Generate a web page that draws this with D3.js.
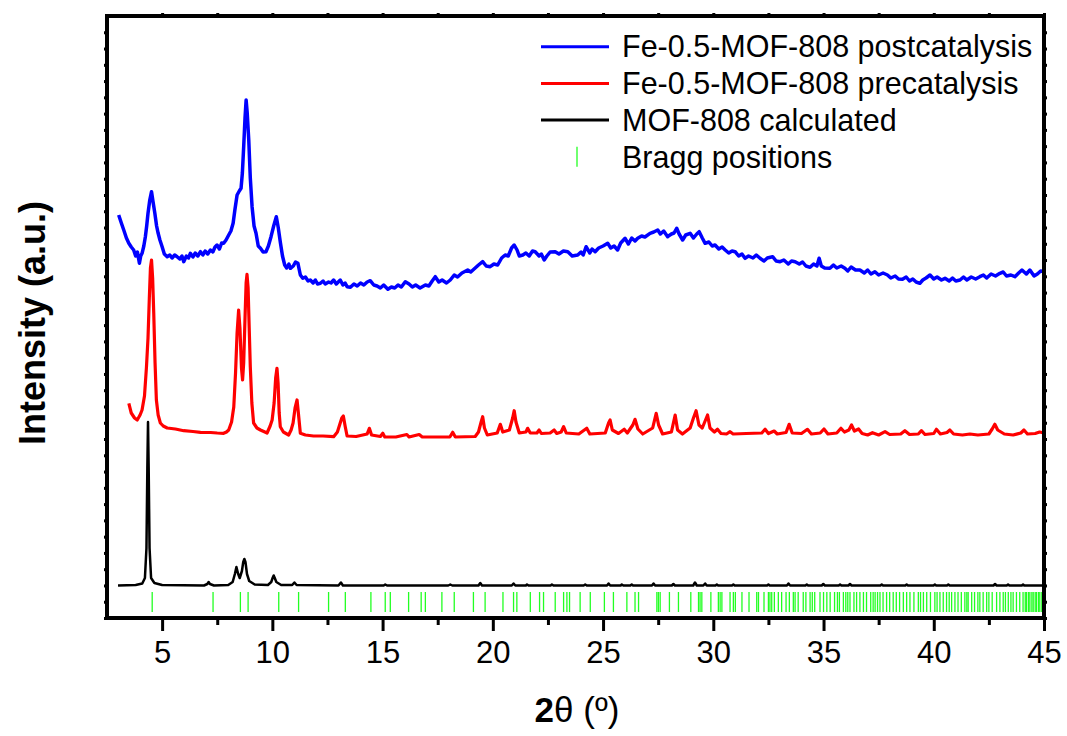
<!DOCTYPE html>
<html>
<head>
<meta charset="utf-8">
<script src="https://cdn.jsdelivr.net/npm/d3@7"></script>
<style>
  body { margin: 0; background: #fff; }
  svg { display: block; }
  text { font-family: Arial, "Liberation Sans", sans-serif; fill: #000; }
</style>
</head>
<body>
<svg id="chart" width="1067" height="736"></svg>
<script>
// ---- Data: 2θ (degrees) vs. intensity (a.u., patterns stacked with offsets) ----
const xMajorTicks = [5, 10, 15, 20, 25, 30, 35, 40, 45];
const xMinorTicks = [7.5, 12.5, 17.5, 22.5, 27.5, 32.5, 37.5, 42.5];

const seriesNames = ["Fe-0.5-MOF-808 postcatalysis", "Fe-0.5-MOF-808 precatalysis", "MOF-808 calculated", "Bragg positions"];
const seriesColors = ["#0000ff", "#ff0000", "#000000", "#22ff22"];

// Fe-0.5-MOF-808 after catalysis
const postcatalysis = [
  [3.03,403],[3.15,395],[3.26,388],[3.38,380],[3.49,374.7],[3.6,371],[3.71,368],[3.8,362],[3.88,366],[3.97,354.7],
  [4.03,362],[4.09,364.7],[4.17,372],[4.24,381.3],[4.3,392],[4.36,404.7],[4.44,418],[4.52,426.3],[4.59,416],[4.67,404.7],
  [4.75,392],[4.82,384.7],[4.9,378],[5.0,371.3],[5.1,364],[5.23,361.3],[5.35,363],[5.45,360],[5.57,363],[5.68,361.3],
  [5.8,359],[5.9,362],[5.98,356.3],[6.1,362],[6.2,360],[6.28,364.7],[6.4,361],[6.5,365],[6.62,362],[6.74,366.3],
  [6.85,363],[6.95,367],[7.07,364],[7.19,368],[7.3,366],[7.4,371],[7.49,373],[7.6,369],[7.7,375],[7.79,374.7],
  [7.9,378],[8.02,383],[8.12,387],[8.22,394.7],[8.3,408],[8.4,423],[8.5,427],[8.58,429.7],[8.64,445],[8.7,471.3],
  [8.76,500],[8.81,518],[8.86,505],[8.93,478],[9.0,440],[9.08,411.3],[9.17,392],[9.26,384.7],[9.36,372],[9.46,369.7],
  [9.58,366],[9.71,366.3],[9.82,372],[9.94,381.3],[10.06,392],[10.18,401.3],[10.27,390],[10.36,376],[10.46,362],[10.56,353],
  [10.65,350],[10.75,354],[10.82,349.7],[10.95,352],[11.05,356],[11.16,354.7],[11.27,343],[11.38,339.7],[11.5,341],[11.62,337],
  [11.72,338],[11.85,335],[11.95,338],[12.05,334],[12.18,334.7],[12.3,337],[12.4,334],[12.55,336],[12.66,335],[12.78,338],
  [12.9,334],[13.08,338],[13.2,333],[13.3,335],[13.39,331.3],[13.54,330.7],[13.7,334],[13.85,332],[14.0,335],[14.15,333],
  [14.3,336],[14.44,337.3],[14.6,333],[14.75,332],[14.9,330],[15.05,333],[15.24,328.7],[15.4,331],[15.55,330],[15.7,333],
  [15.85,331],[16.03,336.3],[16.2,334],[16.35,331],[16.5,333],[16.7,330],[16.94,333],[17.1,332],[17.25,337],[17.39,341.3],
  [17.55,336],[17.7,338],[17.9,335],[18.07,338],[18.25,343],[18.4,341],[18.6,345],[18.86,348],[19.0,346],[19.2,350],
  [19.35,353],[19.54,356.3],[19.7,352],[19.88,351.3],[20.05,354],[20.22,353],[20.4,360],[20.56,363],[20.7,362],[20.85,370],
  [20.97,373],[21.1,368],[21.2,362],[21.36,363],[21.5,365],[21.65,362],[21.8,367],[21.92,366.3],[22.1,362],[22.2,364],
  [22.33,358],[22.45,362],[22.6,366],[22.83,366.3],[23.0,364],[23.2,367],[23.4,366.3],[23.6,362],[23.85,363],[24.0,366],
  [24.1,363],[24.23,371.3],[24.4,365],[24.5,369],[24.64,366.3],[24.8,370],[25.0,372],[25.21,374.7],[25.35,370],[25.5,372],
  [25.66,368],[25.8,375],[26.0,379.7],[26.15,374],[26.3,380],[26.45,377],[26.57,379.7],[26.75,382],[26.9,381],[27.13,384.7],
  [27.3,386],[27.48,388],[27.6,384],[27.75,387],[27.93,381.3],[28.1,384],[28.22,385],[28.34,389.7],[28.45,384],[28.61,378],
  [28.75,383],[28.95,384.7],[29.1,380],[29.25,384],[29.36,386.3],[29.5,380],[29.63,374.7],[29.8,376],[29.95,372],[30.08,373],
  [30.25,369],[30.4,371],[30.54,368],[30.7,365],[30.85,367],[30.99,366.3],[31.15,362],[31.3,364],[31.44,359.7],[31.6,362],
  [31.8,360],[31.95,363],[32.12,359.7],[32.3,357],[32.45,360],[32.69,361.3],[32.85,357],[33.03,356.3],[33.2,358],[33.4,354],
  [33.55,357],[33.71,356.3],[33.9,354],[34.05,356],[34.2,352],[34.39,350.7],[34.55,354],[34.7,352],[34.8,359.7],[34.9,352],
  [35.05,350],[35.29,349.7],[35.45,353],[35.6,350],[35.8,352],[35.97,349.7],[36.1,347],[36.25,351],[36.45,348],[36.65,348],
  [36.85,345],[37.0,348],[37.15,344],[37.33,346.3],[37.5,343],[37.7,345],[37.9,343],[38.05,340],[38.25,342],[38.4,339],
  [38.58,338.7],[38.75,341],[38.9,337],[39.05,339],[39.2,336],[39.37,334.7],[39.5,338],[39.65,340],[39.83,343],[40.0,339],
  [40.15,341],[40.35,338],[40.51,339.7],[40.7,337],[40.85,340],[41.0,337],[41.19,338],[41.35,341],[41.5,338],[41.7,341],
  [41.9,339],[42.09,341.3],[42.25,343],[42.4,340],[42.6,344],[42.8,342],[43.0,344.7],[43.15,346],[43.3,342],[43.5,343],
  [43.68,341.3],[43.85,345],[44.0,348],[44.2,344],[44.36,348],[44.55,342],[44.7,344],[44.85,347],[45.0,346.3]
];

// Fe-0.5-MOF-808 before catalysis
const precatalysis = [
  [3.49,214.7],[3.6,205],[3.75,200],[3.87,198],[4.0,203],[4.09,208],[4.2,222],[4.29,251],[4.36,280],[4.42,320],
  [4.47,350],[4.52,358],[4.57,340],[4.62,305],[4.68,255],[4.74,218],[4.82,203],[4.92,195],[5.05,192],[5.23,190],
  [5.6,189],[5.98,187.3],[6.4,186.5],[6.74,185.7],[7.2,185.5],[7.5,185],[7.79,184.7],[7.92,186],[8.02,188],[8.15,196],
  [8.25,211],[8.33,245],[8.4,285],[8.47,308],[8.53,290],[8.6,250],[8.65,238],[8.7,255],[8.76,300],[8.81,335],
  [8.85,343.7],[8.9,330],[8.95,290],[9.0,251],[9.07,215],[9.15,195],[9.3,190],[9.46,188],[9.76,185],[9.9,192],
  [9.99,198],[10.08,215],[10.15,240],[10.21,249.7],[10.26,235],[10.31,205],[10.36,191.3],[10.5,186],[10.74,183],[10.85,188],
  [10.94,195],[11.03,210],[11.12,218],[11.18,205],[11.27,184.7],[11.5,183],[11.87,182],[12.3,182],[12.78,181.3],[12.95,186],
  [13.05,193],[13.15,200],[13.22,202],[13.3,192],[13.39,182],[13.8,181.5],[14.3,184],[14.4,189.7],[14.5,183],[14.9,181.5],
  [15.01,184.7],[15.1,181],[15.6,181],[16.1,183.5],[16.2,181],[16.66,183.5],[16.8,181],[17.5,181],[18.05,181],[18.18,185.7],
  [18.3,181],[19.2,181.5],[19.35,186],[19.47,196],[19.54,201.3],[19.62,190],[19.75,183],[20.2,185],[20.34,193.7],[20.45,186],
  [20.75,188],[20.9,200],[20.97,207.3],[21.05,196],[21.2,185],[21.5,186],[21.58,189.7],[21.7,185],[22.0,185],[22.1,188],
  [22.2,184.5],[22.6,185],[22.78,188],[22.9,184.5],[23.1,186],[23.21,191.3],[23.33,185],[23.9,184],[24.26,189.7],[24.4,184],
  [25.1,185],[25.25,195],[25.32,198],[25.42,188],[25.7,184.5],[25.96,188.7],[26.1,185],[26.35,193],[26.45,198.7],[26.58,189],
  [26.8,184],[27.25,190],[27.41,204.7],[27.52,193],[27.7,184],[28.1,186],[28.27,203],[28.38,188],[28.6,184],[28.95,190],
  [29.1,200],[29.22,207.3],[29.35,193],[29.5,190],[29.74,203],[29.85,190],[30.05,186],[30.19,188.7],[30.35,184.5],[30.6,184],
  [30.76,186.3],[30.9,184],[31.5,184.5],[32.2,185],[32.35,188.7],[32.5,184.5],[32.76,187],[32.9,184],[33.3,185.5],[33.44,193.7],
  [33.58,185],[34.0,184.5],[34.27,188.7],[34.45,184],[34.85,185],[35.02,189],[35.2,184],[35.6,185],[35.79,189.7],[35.95,186],
  [36.15,188],[36.27,193],[36.4,187],[36.59,189],[36.75,184.5],[37.0,183],[37.22,185.3],[37.5,183],[37.79,186.3],[38.0,183.5],
  [38.5,184],[38.69,187.3],[38.9,183.5],[39.3,184],[39.44,187.3],[39.6,183.5],[40.0,184.5],[40.12,188.7],[40.3,184],[40.6,185.5],
  [40.73,188],[40.9,184],[41.3,183],[41.64,184],[42.0,183],[42.5,184],[42.65,189],[42.77,193.7],[42.9,188],[43.2,184],
  [43.6,183],[43.95,185],[44.09,188],[44.25,184],[44.6,184.5],[44.8,186],[45.0,185]
];

// MOF-808 simulated pattern
const calculated = [
  [3.0,32.5],[3.8,33],[4.1,34.5],[4.22,40],[4.29,70],[4.33,150],[4.36,196],[4.39,150],[4.43,70],[4.5,40],
  [4.65,35],[5.0,33],[6.9,32.5],[7.05,34],[7.11,36],[7.17,34],[7.35,32.5],[8.0,33],[8.2,36],[8.3,44],
  [8.37,51],[8.45,44],[8.52,40],[8.62,47],[8.68,56],[8.73,59],[8.78,56],[8.85,44],[8.95,37],[9.2,33.5],
  [9.8,33],[9.95,36],[10.02,40.5],[10.06,42.5],[10.1,40.5],[10.18,36],[10.4,33],[10.9,33],[11.0,35.5],[11.1,33],
  [13.0,32.5],[13.11,35.5],[13.2,32.5],[15.05,32.5],[15.12,33.5],[15.2,32.5],[17.98,32.5],[18.07,33.5],[18.16,32.5],[19.35,32.5],
  [19.43,35],[19.51,32.5],[20.86,32.5],[20.94,34.5],[21.02,32.5],[21.5,32.5],[21.55,33.5],[21.62,32.5],[22.62,32.5],[22.68,33.5],
  [22.75,32.5],[24.12,32.5],[24.19,33.5],[24.26,32.5],[25.18,32.5],[25.25,34.5],[25.32,32.5],[25.8,32.5],[25.85,33.5],[25.92,32.5],
  [26.24,32.5],[26.3,33.5],[26.36,32.5],[27.22,32.5],[27.29,34.5],[27.36,32.5],[28.12,32.5],[28.19,34],[28.26,32.5],[29.09,32.5],
  [29.17,35.5],[29.25,32.5],[29.55,32.5],[29.63,34.5],[29.7,32.5],[30.1,32.5],[30.16,33.5],[30.22,32.5],[30.85,32.5],[30.91,33.5],
  [30.97,32.5],[32.44,32.5],[32.5,33.5],[32.56,32.5],[33.34,32.5],[33.41,34.5],[33.48,32.5],[34.18,32.5],[34.24,33.5],[34.3,32.5],
  [34.92,32.5],[34.99,34],[35.06,32.5],[35.69,32.5],[35.75,33.5],[35.81,32.5],[36.13,32.5],[36.2,34],[36.27,32.5],[37.58,32.5],
  [37.64,33.5],[37.7,32.5],[38.71,32.5],[38.77,33.5],[38.83,32.5],[39.99,32.5],[40.05,33.5],[40.11,32.5],[40.6,32.5],[40.66,33.5],
  [40.72,32.5],[42.71,32.5],[42.78,34],[42.85,32.5],[43.31,32.5],[43.37,33.5],[43.43,32.5],[43.99,32.5],[44.05,33.5],[44.11,32.5],
  [45.0,32.5]
];

// Bragg reflection positions (2θ, degrees)
const braggPositions = [
  4.55, 7.31, 8.55, 8.90, 10.29, 11.19, 12.55, 13.31, 14.47, 15.12, 15.35, 16.18, 16.75, 16.94, 17.69, 18.25,
  19.12, 19.65, 20.46, 20.94, 21.09, 21.70, 22.12, 22.30, 22.83, 23.21, 23.36, 23.48, 23.96, 24.42, 25.06, 25.47,
  26.08, 26.45, 26.61, 27.44, 27.51, 27.59, 28.01, 28.42, 28.98, 29.33, 29.40, 29.48, 29.89, 30.23, 30.31, 30.39,
  30.76, 30.91, 31.00, 31.30, 31.62, 31.97, 32.05, 32.30, 32.50, 32.57, 32.65, 32.77, 32.95, 33.10, 33.30, 33.45,
  33.63, 33.71, 33.85, 34.08, 34.20, 34.39, 34.49, 34.60, 34.84, 35.00, 35.15, 35.30, 35.50, 35.63, 35.72, 35.90,
  36.01, 36.10, 36.20, 36.38, 36.50, 36.65, 36.81, 36.95, 37.14, 37.25, 37.34, 37.45, 37.56, 37.70, 37.86, 38.00,
  38.16, 38.30, 38.45, 38.62, 38.77, 38.92, 39.10, 39.30, 39.40, 39.53, 39.68, 39.85, 40.05, 40.15, 40.28, 40.43,
  40.58, 40.70, 40.81, 40.96, 41.10, 41.25, 41.41, 41.50, 41.56, 41.72, 41.85, 42.00, 42.09, 42.24, 42.40, 42.50,
  42.65, 42.85, 43.00, 43.15, 43.25, 43.38, 43.50, 43.60, 43.75, 43.90, 44.05, 44.15, 44.21, 44.30, 44.36, 44.45,
  44.51, 44.60, 44.66, 44.75, 44.81, 44.90, 44.96
];
const braggLevel = 16;      // centre of the reflection markers, a.u.
const braggHalfLength = 10; // half height of each marker, a.u.

// ---- Layout ----
const svg = d3.select("#chart");
const plot = { left: 107, right: 1044, top: 16, bottom: 618 };

const x = d3.scaleLinear().domain([2.5, 45]).range([plot.left, plot.right]);
const y = d3.scaleLinear().domain([0, 602]).range([plot.bottom, plot.top]);
const yMinorTicks = d3.range(0, 37).map(i => i * 602 / 37);

const line = d3.line().x(d => x(d[0])).y(d => y(d[1])).curve(d3.curveLinear);

// traces
const traces = [
  { data: postcatalysis, color: seriesColors[0], width: 3.5 },
  { data: precatalysis, color: seriesColors[1], width: 3.2 },
  { data: calculated, color: seriesColors[2], width: 2.5 }
];
svg.append("g").selectAll("path").data(traces).join("path")
  .attr("d", d => line(d.data))
  .attr("fill", "none")
  .attr("stroke", d => d.color)
  .attr("stroke-width", d => d.width)
  .attr("stroke-linejoin", "round");

// Bragg markers
svg.append("g").selectAll("line").data(braggPositions).join("line")
  .attr("x1", d => x(d)).attr("x2", d => x(d))
  .attr("y1", y(braggLevel - braggHalfLength)).attr("y2", y(braggLevel + braggHalfLength))
  .attr("stroke", seriesColors[3]).attr("stroke-width", 1.3);

// ---- Axes ----
const axisStyle = g => {
  g.select(".domain").remove();
  g.selectAll("line").attr("stroke", "#000").attr("stroke-width", 3);
};

svg.append("g").attr("transform", `translate(0,${plot.bottom})`)
  .call(d3.axisBottom(x).tickValues(xMajorTicks).tickSize(13).tickPadding(10).tickFormat(d3.format("d")))
  .call(axisStyle)
  .call(g => g.selectAll("text").attr("font-size", 31).attr("font-family", "Arial, 'Liberation Sans', sans-serif"));

svg.append("g").attr("transform", `translate(0,${plot.bottom})`)
  .call(d3.axisBottom(x).tickValues(xMinorTicks).tickSize(7).tickFormat(""))
  .call(axisStyle);

svg.append("g").attr("transform", `translate(0,${plot.top})`)
  .call(d3.axisTop(x).tickValues(xMajorTicks.concat(xMinorTicks)).tickSize(3).tickFormat(""))
  .call(axisStyle);

svg.append("g").attr("transform", `translate(${plot.left},0)`)
  .call(d3.axisLeft(y).tickValues(yMinorTicks).tickSize(3).tickFormat(""))
  .call(axisStyle);

svg.append("g").attr("transform", `translate(${plot.right},0)`)
  .call(d3.axisRight(y).tickValues(yMinorTicks).tickSize(3).tickFormat(""))
  .call(axisStyle);

// frame
svg.append("rect")
  .attr("x", plot.left).attr("y", plot.top)
  .attr("width", plot.right - plot.left).attr("height", plot.bottom - plot.top)
  .attr("fill", "none").attr("stroke", "#000").attr("stroke-width", 4);

// axis titles
svg.append("text")
  .attr("transform", "translate(45,323) rotate(-90)")
  .attr("text-anchor", "middle")
  .attr("font-size", 36).attr("font-weight", "bold")
  .text("Intensity (a.u.)");

const xTitle = svg.append("text")
  .attr("x", 577).attr("y", 722)
  .attr("text-anchor", "middle")
  .attr("font-size", 35);
xTitle.append("tspan").attr("font-weight", "bold").text("2");
xTitle.append("tspan").text("θ (º)");

// ---- Legend ----
const legend = svg.append("g");
const legendRows = seriesNames.map((name, i) => ({ name, color: seriesColors[i], i }));
const rowY = i => 46.7 + i * 36.7;
legend.selectAll("line.key").data(legendRows.slice(0, 3)).join("line")
  .attr("class", "key")
  .attr("x1", 541).attr("x2", 609)
  .attr("y1", d => rowY(d.i)).attr("y2", d => rowY(d.i))
  .attr("stroke", d => d.color).attr("stroke-width", 3);
legend.append("line")
  .attr("x1", 577).attr("x2", 577)
  .attr("y1", rowY(3) - 10).attr("y2", rowY(3) + 10)
  .attr("stroke", seriesColors[3]).attr("stroke-width", 1.3);
legend.selectAll("text").data(legendRows).join("text")
  .attr("x", 622).attr("y", d => rowY(d.i) + 10.7)
  .attr("font-size", 30.5)
  .text(d => d.name);
</script>
</body>
</html>
